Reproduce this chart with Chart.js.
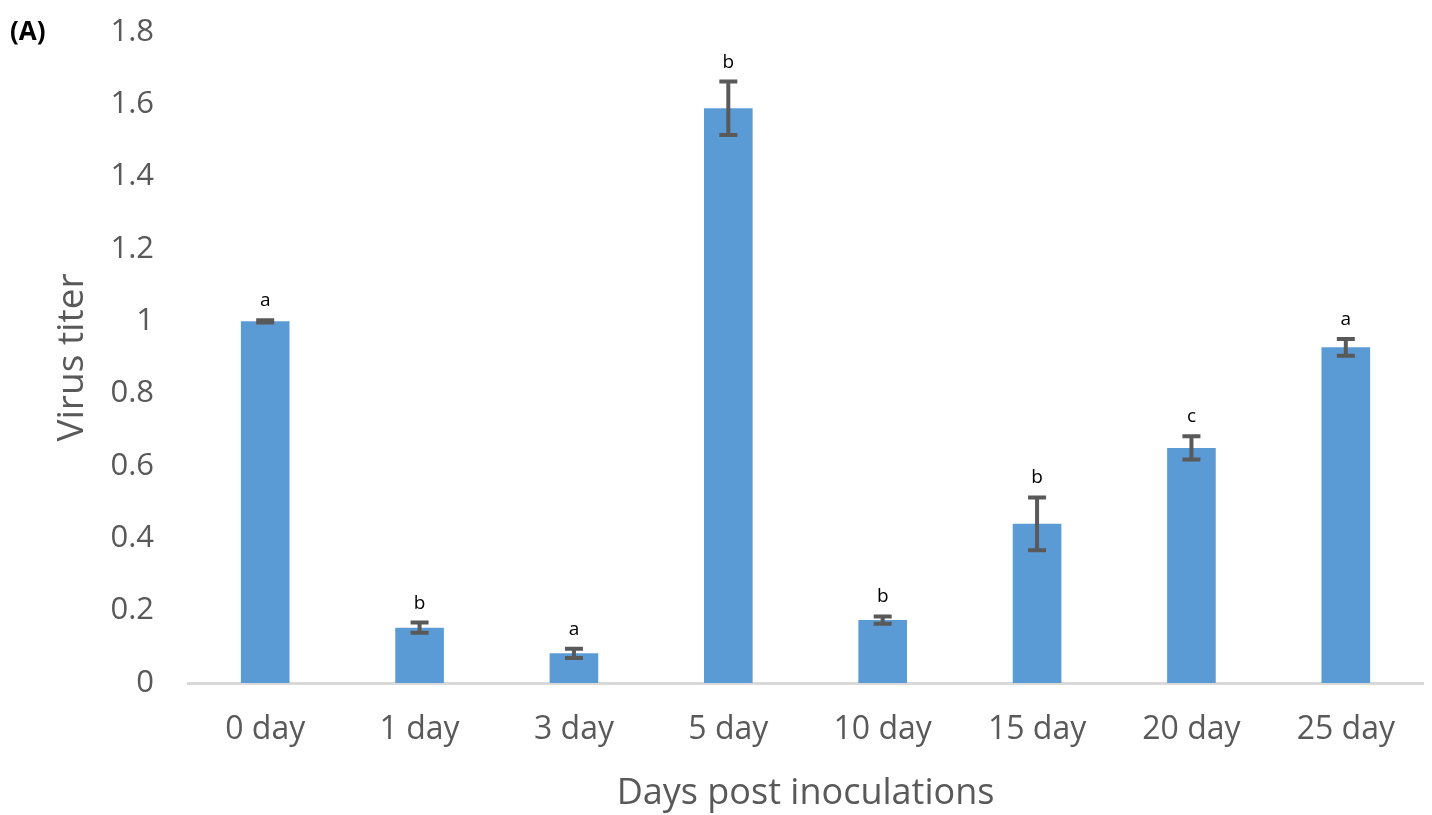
<!DOCTYPE html>
<html>
<head>
<meta charset="utf-8">
<script src="https://cdn.jsdelivr.net/npm/chart.js@4.4.1/dist/chart.umd.min.js"></script>
<style>
  html, body { margin: 0; padding: 0; background: #fff; }
  #wrap { position: relative; width: 1432px; height: 815px; }
  #panel { position: absolute; left: 10px; top: 12px; font: bold 26px "Open Sans", sans-serif; color: #000; }
</style>
</head>
<body>
<div id="wrap">
  <canvas id="chart" width="1432" height="815"></canvas>
  <div id="panel">(A)</div>
</div>
<script>
// Virus titer over days post inoculation

const days = ['0 day', '1 day', '3 day', '5 day', '10 day', '15 day', '20 day', '25 day'];
const titer = [1.0, 0.153, 0.082, 1.589, 0.174, 0.44, 0.65, 0.928];
const titerErr = [0.003, 0.014, 0.013, 0.074, 0.01, 0.073, 0.032, 0.023];
const groups = ['a', 'b', 'a', 'b', 'b', 'b', 'c', 'a'];

const FONT = '"Open Sans", sans-serif';

// draws error bars and significance letters from the bar scale
const errorBarPlugin = {
    id: 'errorBars',
    afterDatasetsDraw(chart) {
        const ctx = chart.ctx;
        const yScale = chart.scales.y;
        const meta = chart.getDatasetMeta(0);
        ctx.save();
        meta.data.forEach((bar, i) => {
            const x = bar.x;
            const top = yScale.getPixelForValue(titer[i] + titerErr[i]);
            const bottom = yScale.getPixelForValue(titer[i] - titerErr[i]);
            ctx.strokeStyle = '#595959';
            ctx.lineWidth = 4;
            ctx.beginPath();
            ctx.moveTo(x, top);
            ctx.lineTo(x, bottom);
            ctx.moveTo(x - 9, top);
            ctx.lineTo(x + 9, top);
            ctx.moveTo(x - 9, bottom);
            ctx.lineTo(x + 9, bottom);
            ctx.stroke();

            ctx.fillStyle = '#000';
            ctx.font = '19px ' + FONT;
            ctx.textAlign = 'center';
            ctx.textBaseline = 'alphabetic';
            ctx.fillText(groups[i], x, top - 14);
        });
        ctx.restore();
    }
};

new Chart(document.getElementById('chart').getContext('2d'), {
    type: 'bar',
    data: {
        labels: days,
        datasets: [{
            label: 'Virus titer',
            data: titer,
            backgroundColor: '#5B9BD5',
            borderWidth: 0,
            categoryPercentage: 1,
            barPercentage: 0.315
        }]
    },
    options: {
        responsive: false,
        animation: false,
        layout: { padding: { left: 50, right: 9, top: 32, bottom: 0 } },
        plugins: {
            legend: { display: false },
            tooltip: { enabled: false }
        },
        scales: {
            x: {
                grid: { display: false, drawTicks: false },
                border: { display: true, color: '#D9D9D9', width: 3 },
                ticks: { color: '#595959', font: { family: FONT, size: 32 }, padding: 28 },
                title: {
                    display: true,
                    text: 'Days post inoculations',
                    color: '#595959',
                    font: { family: FONT, size: 36 },
                    padding: { top: 8, bottom: 0 }
                },
                afterFit(scale) { scale.height = 132; }
            },
            y: {
                min: 0,
                max: 1.8,
                ticks: {
                    stepSize: 0.2,
                    color: '#595959',
                    font: { family: FONT, size: 31 },
                    padding: 34,
                    callback: (v) => String(Number(v.toFixed(1)))
                },
                grid: { display: false, drawTicks: false },
                border: { display: false },
                title: {
                    display: true,
                    text: 'Virus titer',
                    color: '#595959',
                    font: { family: FONT, size: 37 },
                    padding: { top: 0, bottom: 0 }
                },
                afterFit(scale) {
                    scale.width = 138;
                    scale.paddingTop = 0;
                    scale.paddingBottom = 0;
                }
            }
        }
    },
    plugins: [errorBarPlugin]
});
</script>
</body>
</html>
